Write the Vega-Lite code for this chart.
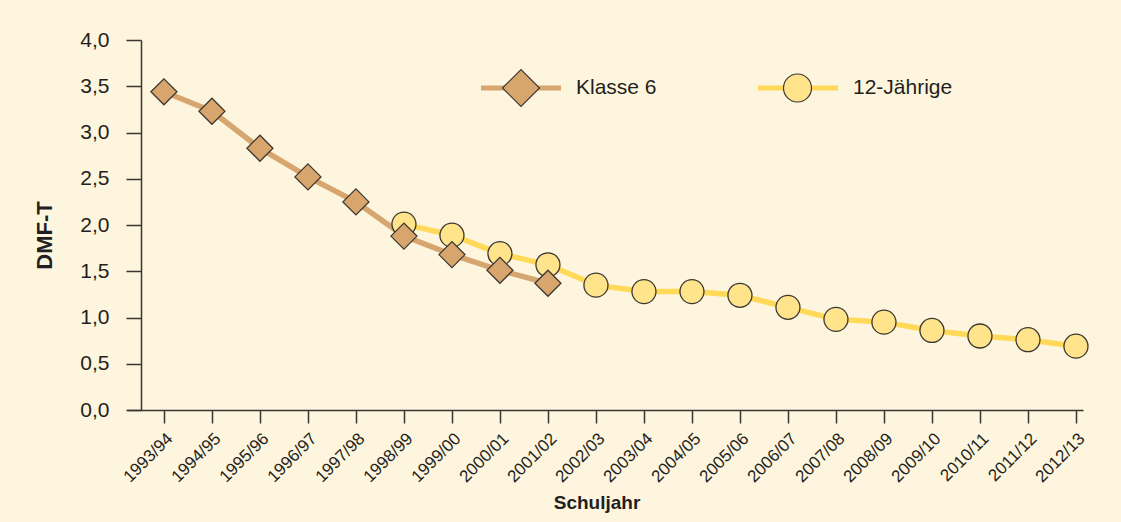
{
  "$schema": "https://vega.github.io/schema/vega-lite/v6.json",
  "autosize": {"type": "none"},
  "padding": {"left": 127, "top": 40, "right": 38, "bottom": 112},
  "width": 956,
  "height": 370,
  "background": "#fdf5de",
  "config": {
    "view": {"stroke": null},
    "font": "Liberation Sans, Arial, sans-serif"
  },
  "data": {
    "values": [
      {"year": "1998/99", "series": "12-Jährige", "value": 2.01},
      {"year": "1999/00", "series": "12-Jährige", "value": 1.89},
      {"year": "2000/01", "series": "12-Jährige", "value": 1.69},
      {"year": "2001/02", "series": "12-Jährige", "value": 1.57},
      {"year": "2002/03", "series": "12-Jährige", "value": 1.35},
      {"year": "2003/04", "series": "12-Jährige", "value": 1.28},
      {"year": "2004/05", "series": "12-Jährige", "value": 1.28},
      {"year": "2005/06", "series": "12-Jährige", "value": 1.24},
      {"year": "2006/07", "series": "12-Jährige", "value": 1.11},
      {"year": "2007/08", "series": "12-Jährige", "value": 0.98},
      {"year": "2008/09", "series": "12-Jährige", "value": 0.95},
      {"year": "2009/10", "series": "12-Jährige", "value": 0.86},
      {"year": "2010/11", "series": "12-Jährige", "value": 0.80},
      {"year": "2011/12", "series": "12-Jährige", "value": 0.76},
      {"year": "2012/13", "series": "12-Jährige", "value": 0.69},
      {"year": "1993/94", "series": "Klasse 6", "value": 3.44},
      {"year": "1994/95", "series": "Klasse 6", "value": 3.23},
      {"year": "1995/96", "series": "Klasse 6", "value": 2.83},
      {"year": "1996/97", "series": "Klasse 6", "value": 2.52},
      {"year": "1997/98", "series": "Klasse 6", "value": 2.25},
      {"year": "1998/99", "series": "Klasse 6", "value": 1.88},
      {"year": "1999/00", "series": "Klasse 6", "value": 1.68},
      {"year": "2000/01", "series": "Klasse 6", "value": 1.51},
      {"year": "2001/02", "series": "Klasse 6", "value": 1.37}
    ]
  },
  "encoding": {
    "x": {
      "field": "year",
      "type": "ordinal",
      "scale": {"type": "point", "padding": 0.458, "align": 0.84},
      "axis": {
        "title": "Schuljahr",
        "titleFontSize": 19,
        "titleFontWeight": "bold",
        "titleColor": "#231f20",
        "titleX": 469.5,
        "titleY": 98,
        "titleBaseline": "alphabetic",
        "titleAnchor": null,
        "titleAlign": "center",
        "labelAngle": -45,
        "labelAlign": "right",
        "labelBaseline": "top",
        "labelFontSize": 17,
        "labelColor": "#231f20",
        "labelPadding": 7,
        "tickSize": 13,
        "tickWidth": 1.5,
        "tickColor": "#3a3632",
        "domainColor": "#3a3632",
        "domainWidth": 1.5,
        "grid": false
      }
    },
    "y": {
      "field": "value",
      "type": "quantitative",
      "scale": {"domain": [0, 4], "nice": false},
      "axis": {
        "title": "DMF-T",
        "titleFontSize": 22,
        "titleFontWeight": "bold",
        "titleColor": "#231f20",
        "titleX": -90,
        "titleY": 195,
        "titleAngle": -90,
        "titleBaseline": "alphabetic",
        "titleAlign": "center",
        "offset": -14,
        "values": [0, 0.5, 1, 1.5, 2, 2.5, 3, 3.5, 4],
        "labelExpr": "replace(format(datum.value, '.1f'), '.', ',')",
        "labelFontSize": 21,
        "labelColor": "#231f20",
        "labelPadding": 17,
        "tickSize": 15,
        "tickWidth": 1.5,
        "tickColor": "#3a3632",
        "domainColor": "#3a3632",
        "domainWidth": 1.5,
        "grid": false
      }
    }
  },
  "layer": [
    {
      "mark": {"type": "line", "strokeWidth": 5.5},
      "encoding": {
        "stroke": {
          "field": "series",
          "type": "nominal",
          "scale": {"domain": ["Klasse 6", "12-Jährige"], "range": ["#d7a66f", "#ffd957"]},
          "legend": {
            "title": null,
            "orient": "none",
            "direction": "horizontal",
            "legendX": 351.5,
            "legendY": 28,
            "padding": 0,
            "symbolType": "stroke",
            "symbolSize": 6400,
            "symbolStrokeWidth": 5,
            "clipHeight": 40,
            "labelOffset": 12.5,
            "labelFontSize": 21,
            "labelColor": "#231f20",
            "columnPadding": 98
          }
        }
      }
    },
    {
      "mark": {"type": "point", "filled": true, "opacity": 1, "stroke": "#3d3832", "strokeWidth": 1.3},
      "encoding": {
        "shape": {
          "field": "series",
          "type": "nominal",
          "sort": "descending",
          "scale": {"range": ["diamond", "M0.757,0A0.757,0.757,0,1,1,-0.757,0A0.757,0.757,0,1,1,0.757,0Z"]},
          "legend": {
            "title": null,
            "orient": "none",
            "direction": "horizontal",
            "legendX": 351.5,
            "legendY": 28,
            "padding": 0,
            "symbolSize": 1369,
            "symbolStrokeWidth": 1.2,
            "symbolOffset": 23,
            "clipHeight": 40,
            "labelOffset": 35.5,
            "labelFontSize": 21,
            "labelExpr": "''",
            "columnPadding": 178.5
          }
        },
        "fill": {
          "field": "series",
          "type": "nominal",
          "sort": "descending",
          "scale": {"range": ["#d8a66c", "#ffe48c"]},
          "legend": {
            "title": null,
            "orient": "none",
            "direction": "horizontal",
            "legendX": 351.5,
            "legendY": 28,
            "padding": 0,
            "symbolSize": 1369,
            "symbolStrokeWidth": 1.2,
            "symbolOffset": 23,
            "clipHeight": 40,
            "labelOffset": 35.5,
            "labelFontSize": 21,
            "labelExpr": "''",
            "columnPadding": 178.5
          }
        },
        "size": {
          "field": "series",
          "type": "nominal",
          "scale": {"domain": ["12-Jährige", "Klasse 6"], "range": [1005, 676]},
          "legend": null
        }
      }
    }
  ]
}
